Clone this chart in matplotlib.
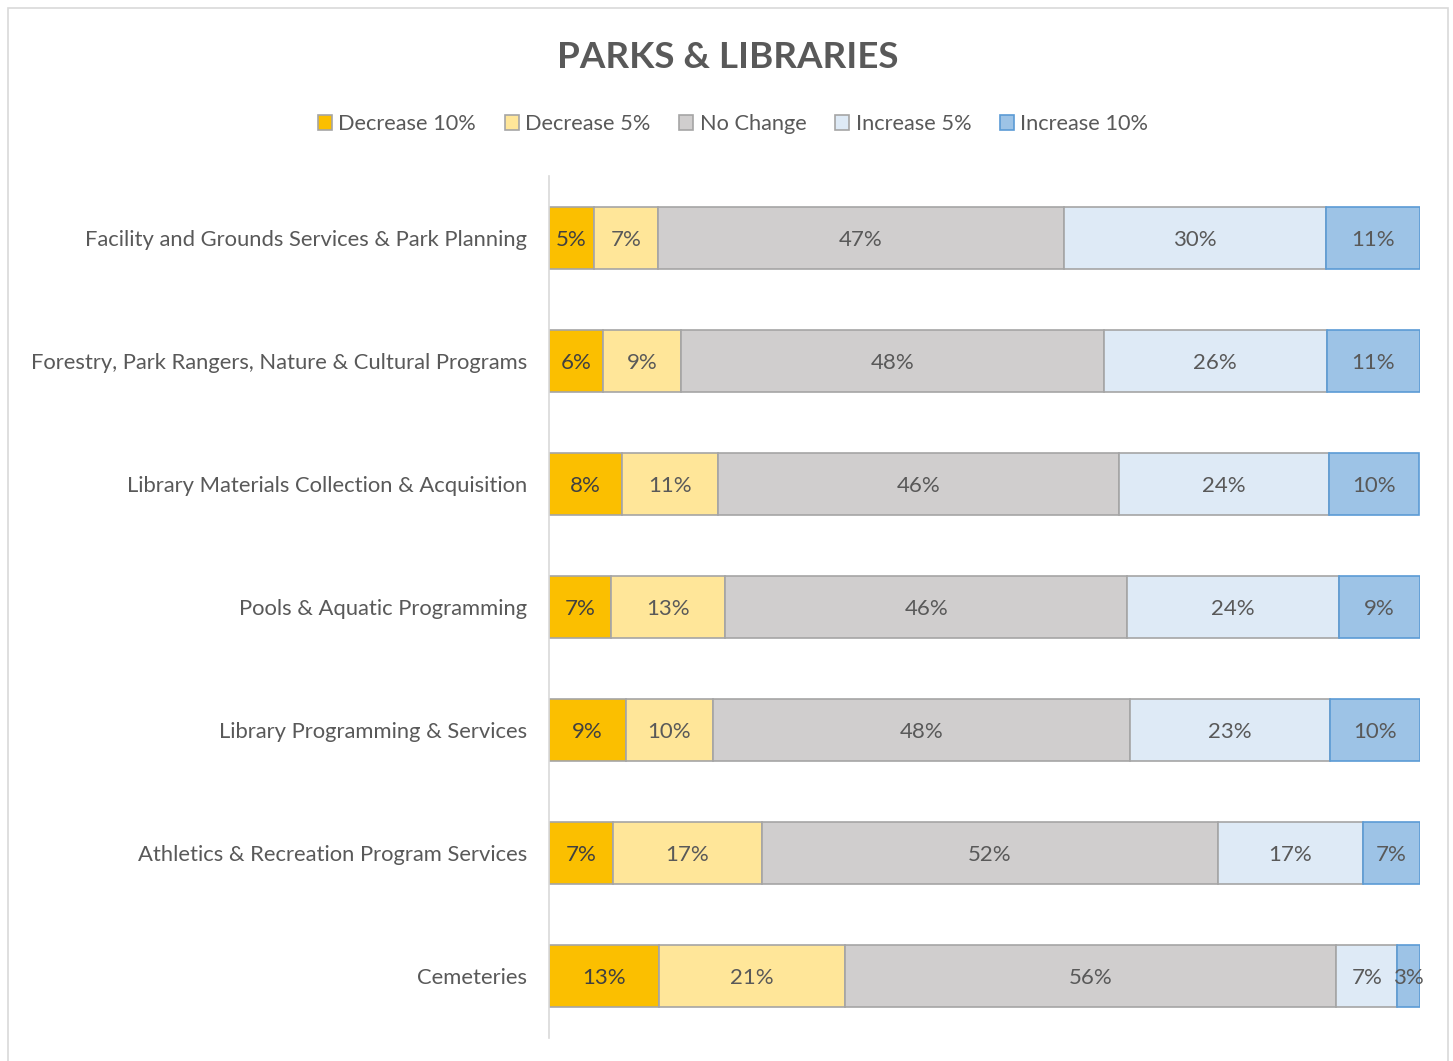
import numpy as np
import matplotlib.pyplot as plt
from matplotlib.patches import Rectangle

plt.rcParams['font.family'] = ['Lato', 'DejaVu Sans']

# survey categories, top to bottom
categories = [
    'Facility and Grounds Services & Park Planning',
    'Forestry, Park Rangers, Nature & Cultural Programs',
    'Library Materials Collection & Acquisition',
    'Pools & Aquatic Programming',
    'Library Programming & Services',
    'Athletics & Recreation Program Services',
    'Cemeteries',
]
series_names = ['Decrease 10%', 'Decrease 5%', 'No Change', 'Increase 5%', 'Increase 10%']

# shares in percent
decrease_10 = [5.2, 6.2, 8.4, 7.1, 8.8, 7.3, 12.6]
decrease_5 = [7.3, 9.0, 11.0, 13.1, 10.0, 17.1, 21.4]
no_change = [46.6, 48.5, 46.0, 46.2, 47.9, 52.4, 56.4]
increase_5 = [30.1, 25.6, 24.2, 24.3, 23.0, 16.6, 7.0]
increase_10 = [10.8, 10.7, 10.3, 9.3, 10.3, 6.6, 2.6]

fills = ['#FBBF00', '#FFE699', '#D0CECE', '#DEEAF6', '#9DC3E6']
edges = ['#A5A5A5', '#A5A5A5', '#A5A5A5', '#A5A5A5', '#5B9BD5']
grey_text = '#595959'

fig = plt.figure(figsize=(14.53, 10.61), dpi=100)
W, H = 1453, 1061
ax = fig.add_axes([549 / W, 23 / H, 871 / W, 862 / H])

# outer chart frame
fig.patches.append(Rectangle((8 / W, -0.01), 1440 / W, 1.0 - 8 / H + 0.01,
                             transform=fig.transFigure, fill=False,
                             edgecolor='#D9D9D9', linewidth=1.2))

y = np.arange(len(categories))
left = np.zeros(len(categories))
all_series = [decrease_10, decrease_5, no_change, increase_5, increase_10]
for name, vals, fc, ec in zip(series_names, all_series, fills, edges):
    vals = np.array(vals)
    bars = ax.barh(y, vals, left=left, height=0.504, color=fc, edgecolor=ec,
                   linewidth=1.2, label=name)
    for b, v in zip(bars, vals):
        ax.text(b.get_x() + b.get_width() / 2, b.get_y() + b.get_height() / 2,
                f'{round(v)}%', ha='center', va='center_baseline', fontsize=16,
                color='#404040' if fc == '#FBBF00' else grey_text)
    left += vals

ax.set_xlim(0, 100)
ax.set_ylim(6.5, -0.5)
ax.set_yticks(y)
ax.set_yticklabels(categories, fontsize=15.8, color=grey_text)
ax.tick_params(axis='y', length=0, pad=16)
ax.set_xticks([])
for s in ['top', 'right', 'bottom']:
    ax.spines[s].set_visible(False)
ax.spines['left'].set_color('#D9D9D9')
ax.spines['left'].set_linewidth(1.2)

fig.text(728 / W, 1 - 57 / H, 'PARKS & LIBRARIES', ha='center', va='center',
         fontsize=26.5, fontweight='bold', color=grey_text)

handles, labels = ax.get_legend_handles_labels()
fig.legend(handles, labels, loc='center', bbox_to_anchor=(733 / W, 1 - 124 / H),
           ncol=5, frameon=False, fontsize=15.7, labelcolor=grey_text,
           handlelength=0.65, handleheight=0.65, handletextpad=0.3,
           columnspacing=1.3)

plt.savefig('out.png', dpi=100)
